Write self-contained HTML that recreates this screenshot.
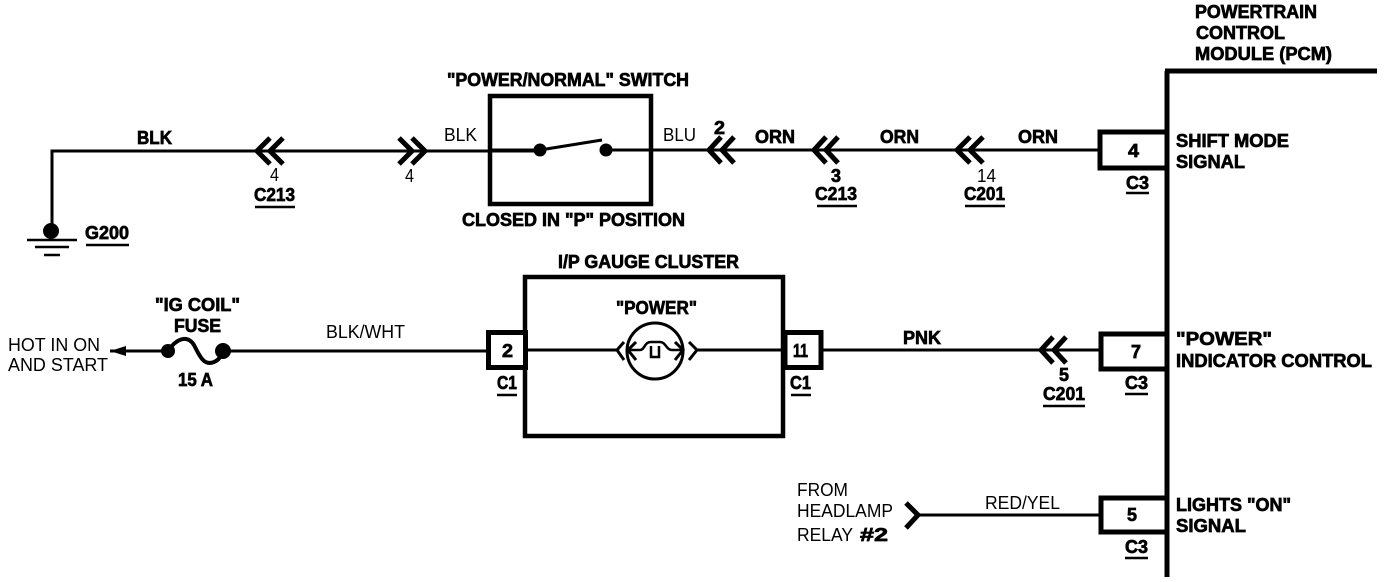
<!DOCTYPE html>
<html><head><meta charset="utf-8"><style>
html,body{margin:0;padding:0;background:#fff;width:1392px;height:582px;overflow:hidden}
svg{display:block}
text{font-family:"Liberation Sans",sans-serif;fill:#000}
.b{font-weight:700;font-size:18.5px;stroke:#000;stroke-width:.7px}
.r{font-size:18px}
.w{fill:none;stroke:#000;stroke-width:3}
.c{fill:none;stroke:#000;stroke-width:5}
.p{fill:#fff;stroke:#000;stroke-width:5}
</style></head><body>
<svg width="1392" height="582" viewBox="0 0 1392 582" xmlns="http://www.w3.org/2000/svg">
<!-- wires -->
<path class="w" d="M52 229V151H426"/>
<path class="w" d="M426 151H540"/>
<path class="w" d="M606 150H1100"/>
<path class="w" d="M110 351H166M223 351H488"/>
<path class="w" d="M525 350H617M697 350H783"/>
<path class="w" d="M823 350H1100"/>
<path class="w" d="M920 515H1100"/>
<!-- ground -->
<circle cx="51" cy="231" r="8"/>
<path d="M27 240H77M35 247H69M44 255H60" stroke="#000" stroke-width="2.5" fill="none"/>
<!-- chevrons -->
<path class="c" d="M270 138L257 151L270 164M283 138L270 151L283 164"/>
<path class="c" d="M399 138L412 151L399 164M412 138L425 151L412 164"/>
<path class="c" d="M721 137L709 150L721 163M734 137L722 150L734 163"/>
<path class="c" d="M826 137L814 150L826 163M838 137L826 150L838 163"/>
<path class="c" d="M970 137L957 150L970 163M983 137L970 150L983 163"/>
<path class="c" d="M1053 337L1041 350L1053 363M1066 337L1054 350L1066 363"/>
<path class="c" d="M906 503L918 515L906 528"/>
<!-- switch -->
<rect x="490" y="96" width="161" height="108" fill="none" stroke="#000" stroke-width="4.5"/>
<path class="w" d="M490 150H540"/>
<circle cx="540" cy="150" r="6.5"/><circle cx="606" cy="150" r="6.5"/>
<path class="w" d="M540 150L602 140"/>
<!-- fuse / arrow -->
<path d="M110 351L126 346V356Z"/>
<circle cx="168" cy="351" r="7"/><circle cx="223" cy="351" r="8"/>
<path d="M168 351C176 339 187 334 194 345C200 357 204 366 214 362C219 360 222 355 223 351" fill="none" stroke="#000" stroke-width="4"/>
<!-- cluster -->
<rect x="525" y="277" width="258" height="159" fill="none" stroke="#000" stroke-width="4.5"/>
<rect x="488.5" y="332.5" width="37" height="35" class="p"/>
<rect x="785" y="332.5" width="36" height="35" class="p"/>
<circle cx="655" cy="351" r="28" fill="none" stroke="#000" stroke-width="3"/>
<path class="w" d="M624 342L617 350L624 360"/>
<path class="w" d="M636 342L628 350L636 360"/>
<path class="w" d="M675 342L683 350L675 360"/>
<path class="w" d="M689 342L697 350L689 360"/>
<path fill="none" stroke="#000" stroke-width="2.5" d="M628 350H640C645 350 644 342 651 342H660C666 342 666 350 672 350H683M651 346V357H659V346"/>
<!-- PCM -->
<path d="M1167 71V577M1165 71H1377" fill="none" stroke="#000" stroke-width="5"/>
<path d="M1167 132H1100V168H1167" fill="#fff" stroke="#000" stroke-width="5"/>
<path d="M1167 334H1101V369H1167" fill="#fff" stroke="#000" stroke-width="5"/>
<path d="M1167 498H1101V532H1167" fill="#fff" stroke="#000" stroke-width="5"/>
<path d="M1167 71V577" fill="none" stroke="#000" stroke-width="5"/>
<!-- underlines -->
<path d="M255 207H295M86 245H129M817 206H857M965 206H1005M1043 406H1085M1126 193H1149M1125 394H1148M1125 558H1148M497 395H517M791 395H811" stroke="#000" stroke-width="2.5" fill="none"/>
<!-- text -->
<text class="b" x="137" y="144" textLength="35" lengthAdjust="spacingAndGlyphs">BLK</text>
<text class="r" x="270" y="181" textLength="9" lengthAdjust="spacingAndGlyphs">4</text>
<text class="b" x="254" y="201" textLength="41" lengthAdjust="spacingAndGlyphs">C213</text>
<text class="r" x="405" y="182" textLength="9" lengthAdjust="spacingAndGlyphs">4</text>
<text class="r" x="444" y="141" textLength="33" lengthAdjust="spacingAndGlyphs">BLK</text>
<text class="b" x="85" y="239" textLength="44" lengthAdjust="spacingAndGlyphs">G200</text>
<text class="b" x="447" y="86" textLength="242" lengthAdjust="spacingAndGlyphs">"POWER/NORMAL" SWITCH</text>
<text class="r" x="663" y="141" textLength="33" lengthAdjust="spacingAndGlyphs">BLU</text>
<text class="b" x="714" y="134" textLength="11" lengthAdjust="spacingAndGlyphs">2</text>
<text class="b" x="755" y="143" textLength="40" lengthAdjust="spacingAndGlyphs">ORN</text>
<text class="b" x="831" y="182" textLength="10" lengthAdjust="spacingAndGlyphs">3</text>
<text class="b" x="815" y="200" textLength="42" lengthAdjust="spacingAndGlyphs">C213</text>
<text class="b" x="880" y="143" textLength="39" lengthAdjust="spacingAndGlyphs">ORN</text>
<text class="b" x="462" y="226" textLength="223" lengthAdjust="spacingAndGlyphs">CLOSED IN "P" POSITION</text>
<text class="b" x="1018" y="143" textLength="40" lengthAdjust="spacingAndGlyphs">ORN</text>
<text class="r" x="977" y="182" textLength="19" lengthAdjust="spacingAndGlyphs">14</text>
<text class="b" x="964" y="200" textLength="41" lengthAdjust="spacingAndGlyphs">C201</text>
<text class="b" x="1128" y="157" textLength="11" lengthAdjust="spacingAndGlyphs">4</text>
<text class="b" x="1126" y="189" textLength="23" lengthAdjust="spacingAndGlyphs">C3</text>
<text class="b" x="1195" y="18" textLength="122" lengthAdjust="spacingAndGlyphs">POWERTRAIN</text>
<text class="b" x="1196" y="39" textLength="89" lengthAdjust="spacingAndGlyphs">CONTROL</text>
<text class="b" x="1195" y="60" textLength="137" lengthAdjust="spacingAndGlyphs">MODULE (PCM)</text>
<text class="b" x="1176" y="147" textLength="113" lengthAdjust="spacingAndGlyphs">SHIFT MODE</text>
<text class="b" x="1176" y="168" textLength="69" lengthAdjust="spacingAndGlyphs">SIGNAL</text>
<text class="r" x="8" y="351" textLength="92" lengthAdjust="spacingAndGlyphs">HOT IN ON</text>
<text class="r" x="8" y="371" textLength="100" lengthAdjust="spacingAndGlyphs">AND START</text>
<text class="b" x="155" y="311" textLength="85" lengthAdjust="spacingAndGlyphs">"IG COIL"</text>
<text class="b" x="174" y="332" textLength="47" lengthAdjust="spacingAndGlyphs">FUSE</text>
<text class="b" x="178" y="386" textLength="35" lengthAdjust="spacingAndGlyphs">15 A</text>
<text class="r" x="326" y="338" textLength="79" lengthAdjust="spacingAndGlyphs">BLK/WHT</text>
<text class="b" x="558" y="268" textLength="181" lengthAdjust="spacingAndGlyphs">I/P GAUGE CLUSTER</text>
<text class="b" x="616" y="314" textLength="81" lengthAdjust="spacingAndGlyphs">"POWER"</text>
<text class="b" x="502" y="357" textLength="11" lengthAdjust="spacingAndGlyphs">2</text>
<text class="b" x="497" y="389" textLength="20" lengthAdjust="spacingAndGlyphs">C1</text>
<text class="b" x="793" y="357" textLength="15" lengthAdjust="spacingAndGlyphs">11</text>
<text class="b" x="790" y="389" textLength="21" lengthAdjust="spacingAndGlyphs">C1</text>
<text class="b" x="903" y="344" textLength="38" lengthAdjust="spacingAndGlyphs">PNK</text>
<text class="b" x="1059" y="381" textLength="10" lengthAdjust="spacingAndGlyphs">5</text>
<text class="b" x="1043" y="400" textLength="42" lengthAdjust="spacingAndGlyphs">C201</text>
<text class="b" x="1131" y="358" textLength="10" lengthAdjust="spacingAndGlyphs">7</text>
<text class="b" x="1125" y="389" textLength="23" lengthAdjust="spacingAndGlyphs">C3</text>
<text class="b" x="1176" y="345" textLength="96" lengthAdjust="spacingAndGlyphs">"POWER"</text>
<text class="b" x="1176" y="367" textLength="196" lengthAdjust="spacingAndGlyphs">INDICATOR CONTROL</text>
<text class="r" x="797" y="496" textLength="51" lengthAdjust="spacingAndGlyphs">FROM</text>
<text class="r" x="797" y="517" textLength="96" lengthAdjust="spacingAndGlyphs">HEADLAMP</text>
<text class="r" x="797" y="541" textLength="56" lengthAdjust="spacingAndGlyphs">RELAY</text>
<text class="b" x="860" y="541" textLength="28" lengthAdjust="spacingAndGlyphs">#2</text>
<text class="r" x="985" y="509" textLength="75" lengthAdjust="spacingAndGlyphs">RED/YEL</text>
<text class="b" x="1127" y="521" textLength="10" lengthAdjust="spacingAndGlyphs">5</text>
<text class="b" x="1125" y="553" textLength="23" lengthAdjust="spacingAndGlyphs">C3</text>
<text class="b" x="1176" y="511" textLength="115" lengthAdjust="spacingAndGlyphs">LIGHTS "ON"</text>
<text class="b" x="1176" y="532" textLength="70" lengthAdjust="spacingAndGlyphs">SIGNAL</text>
</svg>
</body></html>
